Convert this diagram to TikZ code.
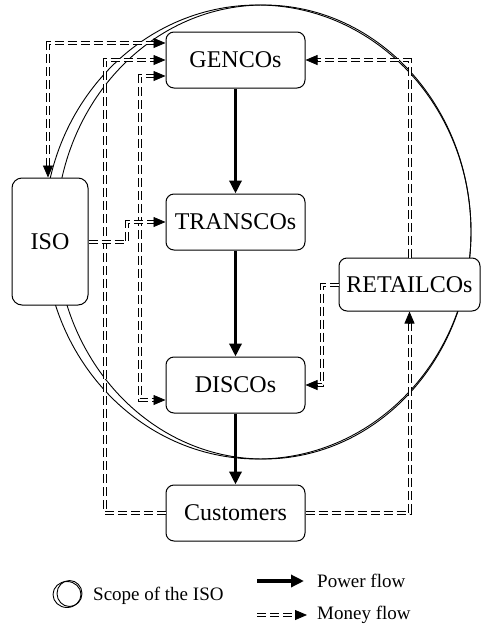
\documentclass[tikz,border=0pt]{standalone}
\usepackage{fontspec}
\setmainfont{Liberation Serif}
\usetikzlibrary{arrows.meta}
\begin{document}
\begin{tikzpicture}[x=1pt,y=-1pt,
  box/.style={draw, line width=1pt, rounded corners=8pt, fill=white, minimum width=139pt, minimum height=56pt, inner sep=0pt, font=\fontsize{24}{28}\selectfont},
  money/.style={draw, line width=1pt, double distance=2pt, dash pattern=on 9pt off 4pt},
  mtip/.style={-{Triangle[length=12pt,width=10pt]}, line width=0.8pt},
  power/.style={line width=3.6pt, -{Triangle[length=13pt,width=12pt]}},
  scope/.style={line width=0.9pt},
  legend/.style={font=\fontsize{19}{22}\selectfont, anchor=west, inner sep=0pt}
]
\useasboundingbox (0,0) rectangle (481,630);
% scope of the ISO
\draw[scope] (263.5,232) ellipse [x radius=207.5, y radius=227];
\draw[scope] (257.6,232) ellipse [x radius=213.4, y radius=227];
% nodes
\node[box] (GEN) at (235.5,60) {GENCOs};
\node[box] (TRA) at (235.5,222) {TRANSCOs};
\node[box] (DIS) at (235.5,385) {DISCOs};
\node[box] (CUS) at (235.5,513) {Customers};
\node[box, minimum width=76pt, minimum height=127pt, rounded corners=10pt] (ISO) at (50,241.5) {ISO};
\node[box, minimum width=141pt, minimum height=53pt] (RET) at (409.5,284.5) {RETAILCOs};
% power flow
\draw[power] (GEN) -- (TRA);
\draw[power] (TRA) -- (DIS);
\draw[power] (DIS) -- (CUS);
% money flow
% ISO <-> GENCOs
\draw[money, shorten <=11pt, shorten >=11pt] ([xshift=-2pt]ISO.north) |- ([yshift=17pt]GEN.west);
\draw[mtip] ([xshift=-2pt,yshift=12pt]ISO.north) -- ([xshift=-2pt]ISO.north);
\draw[mtip] ([xshift=-12pt,yshift=17pt]GEN.west) -- ([yshift=17pt]GEN.west);
% Customers -> GENCOs
\draw[money, shorten >=11pt] (CUS.west) -| ([xshift=-61pt]GEN.west) -- (GEN.west);
\draw[mtip] ([xshift=-12pt]GEN.west) -- (GEN.west);
% GENCOs <-> DISCOs
\draw[money, shorten <=11pt, shorten >=11pt] ([yshift=-16pt]GEN.west) -| ([xshift=-26pt,yshift=-15pt]DIS.west) -- ([yshift=-15pt]DIS.west);
\draw[mtip] ([xshift=-12pt,yshift=-16pt]GEN.west) -- ([yshift=-16pt]GEN.west);
\draw[mtip] ([xshift=-12pt,yshift=-15pt]DIS.west) -- ([yshift=-15pt]DIS.west);
% ISO -> TRANSCOs
\draw[money, shorten >=11pt] (ISO.east) -| ([xshift=-39pt]TRA.west) -- (TRA.west);
\draw[mtip] ([xshift=-12pt]TRA.west) -- (TRA.west);
% RETAILCOs -> GENCOs
\draw[money, shorten >=11pt] (RET.north) |- (GEN.east);
\draw[mtip] ([xshift=12pt]GEN.east) -- (GEN.east);
% RETAILCOs -> DISCOs
\draw[money, shorten >=11pt] (RET.west) -| ([xshift=16pt]DIS.east) -- (DIS.east);
\draw[mtip] ([xshift=12pt]DIS.east) -- (DIS.east);
% Customers -> RETAILCOs
\draw[money, shorten >=11pt] (CUS.east) -| (RET.south);
\draw[mtip] ([yshift=-12pt]RET.south) -- (RET.south);
% legend
\draw[scope] (69.5,593.5) ellipse [x radius=12.5, y radius=13];
\draw[scope] (67,594.5) ellipse [x radius=14, y radius=13];
\node[legend] (L1) at (93,596) {Scope of the ISO};
\node[legend] (L2) at (317,581) {Power flow};
\node[legend] (L3) at (317,615) {Money flow};
\draw[power] ([xshift=-60pt]L2.west) -- ([xshift=-13pt]L2.west);
\draw[money, shorten >=11pt] ([xshift=-60pt]L3.west) -- ([xshift=-10pt]L3.west);
\draw[mtip] ([xshift=-22pt]L3.west) -- ([xshift=-10pt]L3.west);
\end{tikzpicture}
\end{document}
